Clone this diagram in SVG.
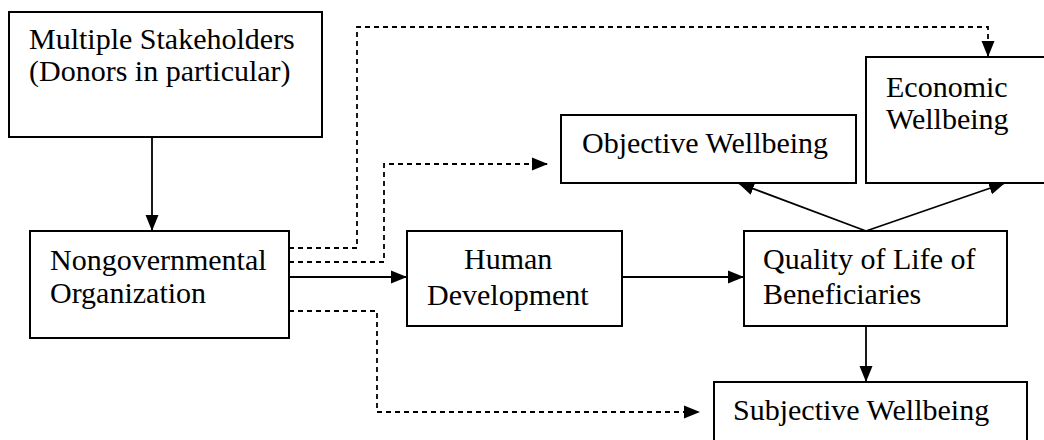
<svg xmlns="http://www.w3.org/2000/svg" width="1044" height="440" viewBox="0 0 1044 440">
  <style>
    .box { fill: #fff; stroke: #000; stroke-width: 2; }
    .lbl { font-family: "Liberation Serif", "Times New Roman", serif; font-size: 30px; fill: #000; }
    .solid { fill: none; stroke: #000; stroke-width: 1.8; }
    .dash { fill: none; stroke: #000; stroke-width: 1.8; stroke-dasharray: 5 4; }
  </style>
  <defs>
    <marker id="ah" markerUnits="userSpaceOnUse" markerWidth="16" markerHeight="14" refX="16" refY="7" orient="auto">
      <path d="M0,0.5 L16,7 L0,13.5 z" fill="#000" stroke="none"/>
    </marker>
  </defs>
  <rect width="1044" height="440" fill="#fff"/>

  <g id="connectors">
    <line class="solid" x1="152" y1="137" x2="152" y2="231" marker-end="url(#ah)"/>
    <polyline class="dash" points="289,248 357,248 357,27 988,27 988,57" marker-end="url(#ah)"/>
    <polyline class="dash" points="289,262 384,262 384,164 548,164" marker-end="url(#ah)"/>
    <line class="solid" x1="289" y1="277" x2="407" y2="277" marker-end="url(#ah)"/>
    <polyline class="dash" points="289,311 377,311 377,412 700,412" marker-end="url(#ah)"/>
    <line class="solid" x1="622" y1="277" x2="744" y2="277" marker-end="url(#ah)"/>
    <line class="solid" x1="866" y1="231" x2="738" y2="183" marker-end="url(#ah)"/>
    <line class="solid" x1="866" y1="231" x2="1005" y2="183" marker-end="url(#ah)"/>
    <line class="solid" x1="866" y1="326" x2="866" y2="382" marker-end="url(#ah)"/>
  </g>

  <g id="stakeholders">
    <rect class="box" x="9" y="12" width="313" height="125"/>
    <text class="lbl" x="29" y="49">Multiple Stakeholders</text>
    <text class="lbl" x="29" y="81">(Donors in particular)</text>
  </g>
  <g id="ngo">
    <rect class="box" x="30" y="231" width="259" height="107"/>
    <text class="lbl" x="50" y="270">Nongovernmental</text>
    <text class="lbl" x="50" y="303">Organization</text>
  </g>
  <g id="human-development">
    <rect class="box" x="407" y="231" width="215" height="95"/>
    <text class="lbl" x="464" y="269">Human</text>
    <text class="lbl" x="427" y="305">Development</text>
  </g>
  <g id="objective">
    <rect class="box" x="561" y="115" width="295" height="68"/>
    <text class="lbl" x="582" y="153">Objective Wellbeing</text>
  </g>
  <g id="economic">
    <rect class="box" x="866" y="57" width="190" height="126"/>
    <text class="lbl" x="886" y="97">Economic</text>
    <text class="lbl" x="886" y="129">Wellbeing</text>
  </g>
  <g id="quality">
    <rect class="box" x="744" y="231" width="263" height="95"/>
    <text class="lbl" x="763" y="269">Quality of Life of</text>
    <text class="lbl" x="763" y="304">Beneficiaries</text>
  </g>
  <g id="subjective">
    <rect class="box" x="714" y="382" width="313" height="70"/>
    <text class="lbl" x="733" y="420">Subjective Wellbeing</text>
  </g>
</svg>
